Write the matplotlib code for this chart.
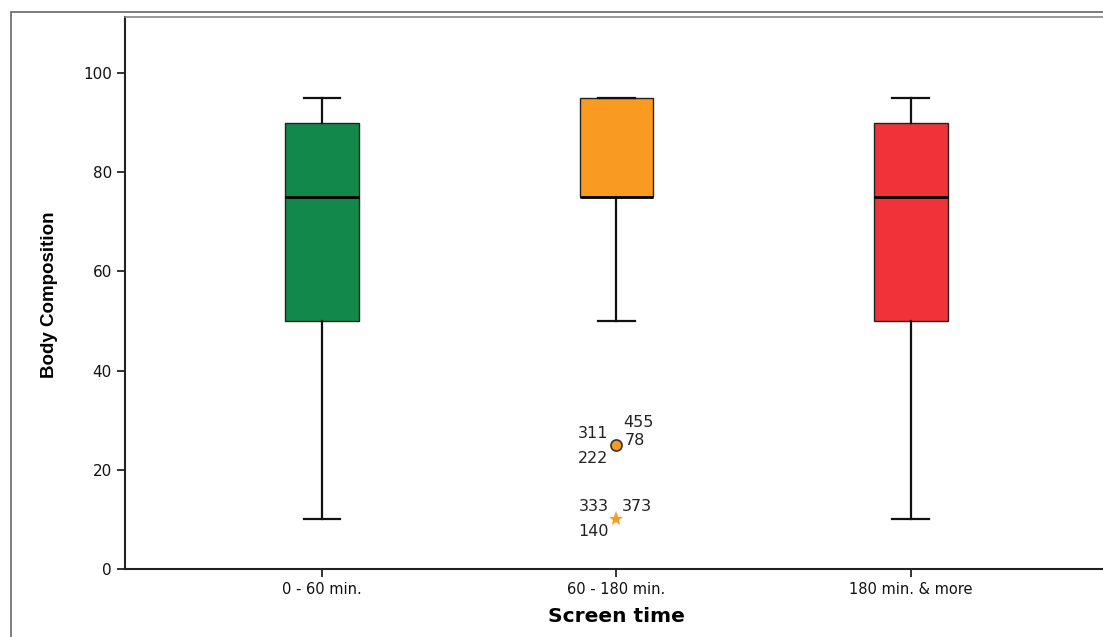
import matplotlib.pyplot as plt
from matplotlib.patches import Rectangle

# data
groups = ["0 - 60 min.", "60 - 180 min.", "180 min. & more"]
whisker_lo = [10, 50, 10]
q1 = [50, 75, 50]
medians = [75, 75, 75]
q3 = [90, 95, 90]
whisker_hi = [95, 95, 95]
box_colors = ["#12894A", "#F89B20", "#EF3339"]

# outliers of the middle group
outlier_value = 25
outlier_ids = ["311", "455", "78", "222"]
extreme_value = 10
extreme_ids = ["333", "373", "140"]

# label offsets (pixels) around the markers
outlier_offsets = [(-23, 12), (22, 23), (19, 5), (-23, -13)]
extreme_offsets = [(-23, 13), (21, 13), (-23, -12)]

plt.rcParams['font.family'] = ['DejaVu Sans']

fig = plt.figure(figsize=(11.03, 6.37), dpi=100)
ax = fig.add_axes([125 / 1103, 1 - 569 / 637, (1108 - 125) / 1103, (569 - 17) / 637])

stats = []
for i in range(len(groups)):
    stats.append(dict(whislo=whisker_lo[i], q1=q1[i], med=medians[i],
                      q3=q3[i], whishi=whisker_hi[i], fliers=[]))

bp = ax.bxp(stats, positions=[1, 2, 3], widths=0.25, capwidths=0.125,
            patch_artist=True, showfliers=False,
            boxprops=dict(edgecolor="#222222", linewidth=1),
            medianprops=dict(color="black", linewidth=2),
            whiskerprops=dict(color="#111111", linewidth=1.6),
            capprops=dict(color="#111111", linewidth=1.6))
for patch, c in zip(bp['boxes'], box_colors):
    patch.set_facecolor(c)

# outlier circle and extreme star
ax.plot([2], [outlier_value], 'o', ms=8, mfc=box_colors[1], mec="#333333", mew=1.2)
ax.plot([2], [extreme_value], '*', ms=11, color=box_colors[1], mew=0)
for lab, off in zip(outlier_ids, outlier_offsets):
    ax.annotate(lab, (2, outlier_value), xytext=off, textcoords='offset pixels',
                ha='center', va='center', fontsize=11.5, color="#222222")
for lab, off in zip(extreme_ids, extreme_offsets):
    ax.annotate(lab, (2, extreme_value), xytext=off, textcoords='offset pixels',
                ha='center', va='center', fontsize=11.5, color="#222222")

ax.set_xlim(0.331, 3.67)
ax.set_ylim(0, 111.3)
ax.set_xticks([1, 2, 3])
ax.set_xticklabels(groups, fontsize=10.5)
ax.set_yticks([0, 20, 40, 60, 80, 100])
ax.tick_params(axis='both', direction='out', length=6, width=1.2, colors="#111111")
ax.tick_params(axis='y', labelsize=11)
ax.tick_params(axis='x', pad=3)

ax.set_xlabel("Screen time", fontsize=14.5, fontweight='bold', va='center')
ax.xaxis.set_label_coords(0.4995, (569 - 617) / 552)
ax.set_ylabel("Body Composition", fontsize=13.5, fontweight='bold', va='center',
              family=['Liberation Sans'])
ax.yaxis.set_label_coords((50 - 125) / 983, (569 - 295) / 552)

for s in ['left', 'bottom']:
    ax.spines[s].set_linewidth(1.5)
    ax.spines[s].set_color("#222222")
ax.spines['top'].set_color("#888888")
ax.spines['top'].set_linewidth(1.2)
ax.spines['right'].set_visible(False)

# outer frame
fig.patches.append(Rectangle((11 / 1103, -0.1), 1.2, 1 - 12 / 637 + 0.1,
                             transform=fig.transFigure, fill=False,
                             edgecolor="#666666", linewidth=1.2))

fig.savefig("out.png", dpi=100)
